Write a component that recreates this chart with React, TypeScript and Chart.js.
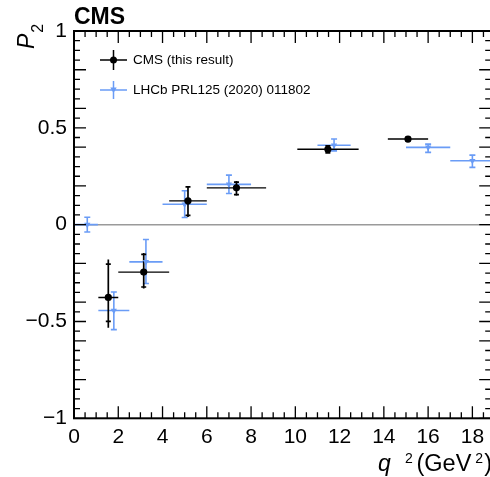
import React, { useEffect, useRef } from 'react';
import { Chart, registerables } from 'chart.js';
Chart.register(...registerables);

// ---------- data ----------
const CMS_LABEL = 'CMS (this result)';
const LHCB_LABEL = 'LHCb PRL125 (2020) 011802';

const cmsX = [1.55, 3.15, 5.15, 7.34, 11.47, 15.09];
const cmsXLo = [1.1, 2.0, 4.3, 6.0, 10.09, 14.18];
const cmsXHi = [2.0, 4.3, 6.0, 8.68, 12.86, 16.0];
const cmsY = [-0.376, -0.245, 0.123, 0.19, 0.389, 0.442];
const cmsTotUp = [0.196, 0.099, 0.077, 0.036, 0.022, 0.012];
const cmsTotDn = [0.157, 0.085, 0.083, 0.041, 0.022, 0.012];
const cmsStatUp = [0.172, 0.092, 0.072, 0.03, 0.018, 0.01];
const cmsStatDn = [0.123, 0.077, 0.075, 0.035, 0.018, 0.01];

const lhcbX = [0.6, 1.8, 3.25, 5.0, 7.0, 11.75, 16.0, 18.0];
const lhcbXLo = [0.05, 1.1, 2.5, 4.0, 6.0, 11.0, 15.0, 17.0];
const lhcbXHi = [1.08, 2.5, 4.0, 6.0, 8.0, 12.5, 17.0, 19.0];
const lhcbY = [0.0, -0.443, -0.192, 0.105, 0.208, 0.41, 0.399, 0.33];
const lhcbUp = [0.038, 0.095, 0.115, 0.07, 0.048, 0.032, 0.017, 0.029];
const lhcbDn = [0.038, 0.099, 0.112, 0.068, 0.047, 0.029, 0.026, 0.034];

const X_TICKS = [0, 2, 4, 6, 8, 10, 12, 14, 16, 18];
const X_TICK_LABELS = ['0', '2', '4', '6', '8', '10', '12', '14', '16', '18'];
const Y_TICKS = [-1, -0.5, 0, 0.5, 1];
const Y_TICK_LABELS = ['\u22121', '\u22120.5', '0', '0.5', '1'];
const X_MIN = 0;
const X_MAX = 18.85;
const Y_MIN = -1;
const Y_MAX = 1;

// ---------- style ----------
const FONT = "'Liberation Sans', Arial, Helvetica, sans-serif";
const BLUE = '#6a9cf6';
const BLACK = '#000000';
const CANVAS_W = 530;
const CANVAS_H = 477;
const PLOT_RIGHT = 491.2;

const rootPlugin = {
  id: 'rootStyle',
  beforeDatasetsDraw(chart: any) {
    const { ctx, chartArea: a, scales } = chart;
    const x = scales.x;
    const y = scales.y;
    ctx.save();
    ctx.beginPath();
    ctx.rect(a.left, a.top, a.right - a.left, a.bottom - a.top);
    ctx.clip();

    // zero line
    ctx.strokeStyle = '#9a9a9a';
    ctx.lineWidth = 1.5;
    ctx.beginPath();
    ctx.moveTo(x.getPixelForValue(X_MIN), y.getPixelForValue(0));
    ctx.lineTo(x.getPixelForValue(X_MAX), y.getPixelForValue(0));
    ctx.stroke();

    // LHCb error bars
    ctx.strokeStyle = BLUE;
    ctx.lineWidth = 1.6;
    for (let i = 0; i < lhcbX.length; i++) {
      const px = x.getPixelForValue(lhcbX[i]);
      const py = y.getPixelForValue(lhcbY[i]);
      const pl = x.getPixelForValue(lhcbXLo[i]);
      const pr = x.getPixelForValue(lhcbXHi[i]);
      const pu = y.getPixelForValue(lhcbY[i] + lhcbUp[i]);
      const pd = y.getPixelForValue(lhcbY[i] - lhcbDn[i]);
      ctx.beginPath();
      ctx.moveTo(pl, py); ctx.lineTo(pr, py);
      ctx.moveTo(px, pu); ctx.lineTo(px, pd);
      ctx.moveTo(px - 3, pu); ctx.lineTo(px + 3, pu);
      ctx.moveTo(px - 3, pd); ctx.lineTo(px + 3, pd);
      ctx.stroke();
    }

    // CMS error bars
    ctx.strokeStyle = BLACK;
    for (let i = 0; i < cmsX.length; i++) {
      const px = x.getPixelForValue(cmsX[i]);
      const py = y.getPixelForValue(cmsY[i]);
      const pl = x.getPixelForValue(cmsXLo[i]);
      const pr = x.getPixelForValue(cmsXHi[i]);
      ctx.lineWidth = 1.4;
      ctx.beginPath();
      ctx.moveTo(pl, py); ctx.lineTo(pr, py);
      ctx.stroke();
      ctx.lineWidth = 1.7;
      ctx.beginPath();
      ctx.moveTo(px, y.getPixelForValue(cmsY[i] + cmsTotUp[i]));
      ctx.lineTo(px, y.getPixelForValue(cmsY[i] - cmsTotDn[i]));
      const su = y.getPixelForValue(cmsY[i] + cmsStatUp[i]);
      const sd = y.getPixelForValue(cmsY[i] - cmsStatDn[i]);
      ctx.moveTo(px - 2.5, su); ctx.lineTo(px + 2.5, su);
      ctx.moveTo(px - 2.5, sd); ctx.lineTo(px + 2.5, sd);
      ctx.stroke();
    }
    ctx.restore();
  },
  afterDraw(chart: any) {
    const { ctx, chartArea: a, scales } = chart;
    const x = scales.x;
    const y = scales.y;
    ctx.save();

    // ticks (inward, all four sides)
    ctx.strokeStyle = BLACK;
    ctx.lineWidth = 1.3;
    ctx.beginPath();
    for (let k = 0; k <= Math.floor((X_MAX - X_MIN) / 0.5); k++) {
      const v = X_MIN + k * 0.5;
      const px = x.getPixelForValue(v);
      const len = Math.abs(v % 2) < 1e-6 ? 12 : 6;
      ctx.moveTo(px, a.bottom); ctx.lineTo(px, a.bottom - len);
      ctx.moveTo(px, a.top); ctx.lineTo(px, a.top + len);
    }
    for (let k = 0; k <= Math.round((Y_MAX - Y_MIN) / 0.05); k++) {
      const v = Y_MIN + k * 0.05;
      const py = y.getPixelForValue(v);
      const r = Math.round(v * 100);
      const long = r % 50 === 0 || r % 20 === 0;
      const len = long ? 12 : 6;
      ctx.moveTo(a.left, py); ctx.lineTo(a.left + len, py);
      ctx.moveTo(a.right, py); ctx.lineTo(a.right - len, py);
    }
    ctx.stroke();

    // frame
    ctx.lineWidth = 2;
    ctx.strokeRect(a.left, a.top, a.right - a.left, a.bottom - a.top);

    // CMS label
    ctx.fillStyle = BLACK;
    ctx.font = `bold 23px ${FONT}`;
    ctx.textAlign = 'left';
    ctx.textBaseline = 'alphabetic';
    ctx.fillText('CMS', 74, 24);

    // legend
    const lx0 = 100, lx1 = 127, lmx = 113.5;
    ctx.strokeStyle = BLACK;
    ctx.lineWidth = 1.5;
    ctx.beginPath();
    ctx.moveTo(lx0, 60); ctx.lineTo(lx1, 60);
    ctx.moveTo(lmx, 50); ctx.lineTo(lmx, 70);
    ctx.stroke();
    ctx.beginPath();
    ctx.arc(lmx, 60, 3.5, 0, Math.PI * 2);
    ctx.fill();
    ctx.strokeStyle = BLUE;
    ctx.fillStyle = BLUE;
    ctx.beginPath();
    ctx.moveTo(lx0, 90); ctx.lineTo(lx1, 90);
    ctx.moveTo(lmx, 81); ctx.lineTo(lmx, 99);
    ctx.stroke();
    ctx.beginPath();
    ctx.moveTo(lmx - 3.2, 87.5); ctx.lineTo(lmx + 3.2, 87.5); ctx.lineTo(lmx, 93);
    ctx.closePath();
    ctx.fill();

    ctx.fillStyle = BLACK;
    ctx.font = `13.5px ${FONT}`;
    ctx.textBaseline = 'middle';
    ctx.fillText(CMS_LABEL, 133, 60);
    ctx.fillText(LHCB_LABEL, 133, 90);

    // y title P_2 (rotated)
    ctx.save();
    ctx.translate(33.5, 49);
    ctx.rotate(-Math.PI / 2);
    ctx.textBaseline = 'alphabetic';
    ctx.font = `italic 23px ${FONT}`;
    ctx.fillText('P', 0, 0);
    const pw = ctx.measureText('P').width;
    ctx.font = `16px ${FONT}`;
    ctx.fillText('2', pw + 1, 9);
    ctx.restore();

    // x title q^2 (GeV^2)
    ctx.textBaseline = 'alphabetic';
    const bx = 378, by = 471;
    ctx.font = `italic 23px ${FONT}`;
    ctx.fillText('q', bx, by);
    ctx.font = `14px ${FONT}`;
    ctx.fillText('2', 405, by - 8);
    ctx.font = `23.5px ${FONT}`;
    ctx.fillText('(GeV', 416.5, by);
    const gw = ctx.measureText('(GeV').width;
    ctx.font = `14px ${FONT}`;
    ctx.fillText('2', 416.5 + gw + 4, by - 8);
    const sw = ctx.measureText('2').width;
    ctx.font = `23.5px ${FONT}`;
    ctx.fillText(')', 416.5 + gw + 5 + sw, by);

    ctx.restore();
  },
};

export default function App() {
  const ref = useRef<HTMLCanvasElement | null>(null);
  useEffect(() => {
    if (!ref.current) return;
    const chart = new Chart(ref.current, {
      type: 'scatter',
      data: {
        datasets: [
          {
            label: CMS_LABEL,
            data: cmsX.map((v, i) => ({ x: v, y: cmsY[i] })),
            pointStyle: 'circle',
            pointRadius: 3.6,
            pointBorderWidth: 0,
            backgroundColor: BLACK,
            borderColor: BLACK,
            showLine: false,
          },
          {
            label: LHCB_LABEL,
            data: lhcbX.map((v, i) => ({ x: v, y: lhcbY[i] })),
            pointStyle: 'triangle',
            rotation: 180,
            pointRadius: 3.6,
            pointBorderWidth: 0,
            backgroundColor: BLUE,
            borderColor: BLUE,
            showLine: false,
          },
        ],
      },
      options: {
        responsive: false,
        devicePixelRatio: 1,
        animation: false,
        events: [],
        layout: { padding: { left: 0, top: 31, right: CANVAS_W - PLOT_RIGHT, bottom: 0 } },
        plugins: { legend: { display: false }, tooltip: { enabled: false } },
        scales: {
          x: {
            type: 'linear',
            min: X_MIN,
            max: X_MAX,
            grid: { display: false, drawTicks: false },
            border: { display: false },
            afterBuildTicks: (s: any) => { s.ticks = X_TICKS.map((v) => ({ value: v })); },
            afterFit: (s: any) => { s.height = CANVAS_H - 418.3; },
            ticks: {
              autoSkip: false,
              maxRotation: 0,
              padding: 6,
              color: BLACK,
              font: { family: FONT, size: 21 },
              callback: (_v: any, i: number) => X_TICK_LABELS[i],
            },
          },
          y: {
            type: 'linear',
            min: Y_MIN,
            max: Y_MAX,
            grid: { display: false, drawTicks: false },
            border: { display: false },
            afterBuildTicks: (s: any) => { s.ticks = Y_TICKS.map((v) => ({ value: v })); },
            afterFit: (s: any) => { s.width = 74; },
            ticks: {
              autoSkip: false,
              padding: 7,
              color: BLACK,
              font: { family: FONT, size: 21 },
              callback: (_v: any, i: number) => Y_TICK_LABELS[i],
            },
          },
        },
      },
      plugins: [rootPlugin],
    } as any);
    return () => chart.destroy();
  }, []);

  return (
    <div style={{ position: 'fixed', left: 0, top: 0, width: 490, height: 477, overflow: 'hidden', background: '#fff' }}>
      <canvas ref={ref} width={CANVAS_W} height={CANVAS_H} style={{ display: 'block', width: CANVAS_W, height: CANVAS_H }} />
    </div>
  );
}
